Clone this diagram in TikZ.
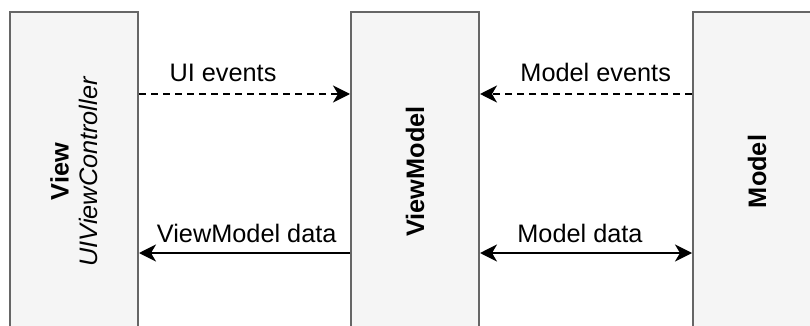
\documentclass[tikz,border=0pt]{standalone}
\usepackage{fontspec}
\setmainfont{Liberation Sans}
\usetikzlibrary{arrows.meta}
\tikzset{
  layer/.style={draw=boxline, fill=boxfill, line width=2pt, rotate=90,
    minimum width=319pt, minimum height=128pt, inner sep=0pt,
    align=center, font=\fontsize{25.3}{29}\selectfont},
  flow/.style={line width=2pt, -{Stealth[length=17pt,width=17pt,inset=5pt]}},
  both/.style={line width=2pt, {Stealth[length=17pt,width=17pt,inset=5pt]}-{Stealth[length=17pt,width=17pt,inset=5pt]}},
  async/.style={flow, dash pattern=on 7pt off 5pt},
  lbl/.style={anchor=base, inner sep=0pt, font=\fontsize{25.3}{29}\selectfont}
}
\definecolor{boxline}{HTML}{666666}
\definecolor{boxfill}{HTML}{F5F5F5}
\begin{document}
\begin{tikzpicture}[x=1pt,y=-1pt]
  \useasboundingbox (0,0) rectangle (810,326);
  \fill[white] (0,0) rectangle (810,326);
  \clip (0,0) rectangle (810,326);

  % the three layers
  \node[layer] (view) at (74,171.5) {\textbf{View}\\\textit{UIViewController}};
  \node[layer] (vm) at (415,171.5) {\textbf{ViewModel}};
  \node[layer] (model) at (757,171.5) {\textbf{Model}};

  % events flow towards the view model
  \draw[async] (view.south |- 0,94) -- (vm.north |- 0,94);
  \draw[async] (model.north |- 0,94) -- (vm.south |- 0,94);
  % data
  \draw[flow] (vm.north |- 0,253) -- (view.south |- 0,253);
  \draw[both] (vm.south |- 0,253) -- (model.north |- 0,253);

  % connector labels
  \node[lbl] (l1) at (223,82) {UI events};
  \node[lbl] (l2) at (595.7,82) {Model events};
  \node[lbl] (l3) at (246.7,242) {ViewModel data};
  \node[lbl] (l4) at (580,242) {Model data};
\end{tikzpicture}
\end{document}
